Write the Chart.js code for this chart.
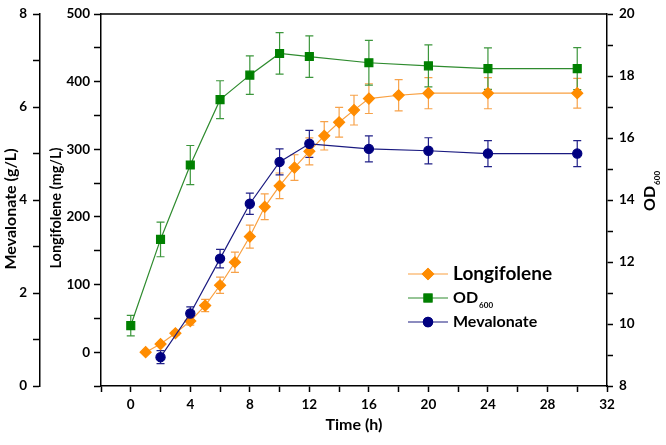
<!DOCTYPE html>
<html>
<head>
<meta charset="utf-8">
<script src="https://cdn.jsdelivr.net/npm/chart.js@4/dist/chart.umd.min.js"></script>
<style>
    body { margin: 0; background: #fff; }
    canvas { display: block; }
</style>
</head>
<body>
<canvas id="chart" width="666" height="445"></canvas>
<script>
'use strict';

// sampling times (h)
const timeLongi = [1, 2, 3, 4, 5, 6, 7, 8, 9, 10, 11, 12, 13, 14, 15, 16, 18, 20, 24, 30];
const timeOD = [0, 2, 4, 6, 8, 10, 12, 16, 20, 24, 30];
const timeMev = [2, 4, 6, 8, 10, 12, 16, 20, 24, 30];

// Longifolene (mg/L)
const longifolene = [0, 12, 28, 46, 69, 99, 133, 171, 215, 246, 273, 297, 320, 340, 358, 375, 380, 383, 383, 383];
const longiErr = [0, 2, 3, 6, 9, 12, 15, 17, 19, 19, 19, 20, 21, 22, 22, 22, 23, 23, 23, 22];

// OD600
const od600 = [9.95, 12.73, 15.13, 17.24, 18.03, 18.73, 18.63, 18.43, 18.33, 18.24, 18.24];
const odErr = [0.33, 0.56, 0.63, 0.61, 0.62, 0.67, 0.67, 0.72, 0.68, 0.67, 0.68];

// Mevalonate (g/L)
const mevalonate = [0.62, 1.56, 2.74, 3.92, 4.82, 5.21, 5.10, 5.06, 5.00, 5.00];
const mevErr = [0.14, 0.14, 0.2, 0.23, 0.28, 0.29, 0.28, 0.28, 0.28, 0.28];

const FONT = 'Lato, "Open Sans", sans-serif';
const tickFont = { family: FONT, size: 13.5, weight: 'bold' };

const toPoints = (xs, ys) => xs.map((x, i) => ({ x: x, y: ys[i] }));

// error bars are drawn under the markers
const errorBars = {
    id: 'errorBars',
    beforeDatasetsDraw(chart) {
        const ctx = chart.ctx;
        chart.data.datasets.forEach((ds, di) => {
            const meta = chart.getDatasetMeta(di);
            const yScale = chart.scales[ds.yAxisID];
            ctx.save();
            ctx.strokeStyle = ds.errColor;
            ctx.lineWidth = 1.2;
            meta.data.forEach((pt, i) => {
                const e = ds.errors[i];
                if (!e) return;
                const v = ds.data[i].y;
                const top = yScale.getPixelForValue(v + e);
                const bot = yScale.getPixelForValue(v - e);
                ctx.beginPath();
                ctx.moveTo(pt.x, top);
                ctx.lineTo(pt.x, bot);
                ctx.moveTo(pt.x - 4, top);
                ctx.lineTo(pt.x + 4, top);
                ctx.moveTo(pt.x - 4, bot);
                ctx.lineTo(pt.x + 4, bot);
                ctx.stroke();
            });
            ctx.restore();
        });
    }
};

// frame top, y axis titles and the legend
const decorations = {
    id: 'decorations',
    afterDraw(chart) {
        const ctx = chart.ctx;
        const area = chart.chartArea;
        ctx.save();

        ctx.strokeStyle = '#000';
        ctx.lineWidth = 1.5;
        ctx.beginPath();
        ctx.moveTo(area.left, area.top);
        ctx.lineTo(area.right, area.top);
        ctx.stroke();

        ctx.fillStyle = '#000';
        ctx.textAlign = 'center';
        ctx.textBaseline = 'middle';

        ctx.save();
        ctx.translate(11, 209);
        ctx.rotate(-Math.PI / 2);
        ctx.font = 'bold 16px ' + FONT;
        ctx.fillText('Mevalonate (g/L)', 0, 0);
        ctx.restore();

        ctx.save();
        ctx.translate(56, 208);
        ctx.rotate(-Math.PI / 2);
        ctx.font = 'bold 14.5px ' + FONT;
        ctx.fillText('Longifolene (mg/L)', 0, 0);
        ctx.restore();

        // OD600 with subscript
        ctx.save();
        ctx.translate(650, 201);
        ctx.rotate(-Math.PI / 2);
        ctx.textAlign = 'left';
        ctx.font = 'bold 16px ' + FONT;
        ctx.fillText('OD', -10, 0);
        const odW = ctx.measureText('OD').width;
        ctx.font = 'bold 8px ' + FONT;
        ctx.fillText('600', -10 + odW + 1, 7);
        ctx.restore();

        // legend
        const rows = [
            { ds: 0, y: 274, label: 'Longifolene', size: 19 },
            { ds: 1, y: 298, label: 'OD', sub: '600', size: 16 },
            { ds: 2, y: 322, label: 'Mevalonate', size: 16 }
        ];
        rows.forEach(r => {
            const ds = chart.data.datasets[r.ds];
            ctx.strokeStyle = ds.borderColor;
            ctx.lineWidth = 1.2;
            ctx.beginPath();
            ctx.moveTo(408, r.y);
            ctx.lineTo(448, r.y);
            ctx.stroke();
            Chart.helpers.drawPoint(ctx, {
                pointStyle: ds.pointStyle,
                radius: ds.pointRadius,
                rotation: 0,
                borderWidth: 1
            }, 428, r.y);
            ctx.fillStyle = ds.pointBackgroundColor;
            ctx.strokeStyle = ds.pointBorderColor;
            ctx.fill();
            ctx.stroke();

            ctx.fillStyle = '#000';
            ctx.textAlign = 'left';
            ctx.font = 'bold ' + r.size + 'px ' + FONT;
            ctx.fillText(r.label, 453, r.y);
            if (r.sub) {
                const w = ctx.measureText(r.label).width;
                ctx.font = 'bold 8px ' + FONT;
                ctx.fillText(r.sub, 454 + w, r.y + 7);
            }
        });

        ctx.restore();
    }
};

const yAxis = (opts) => Object.assign({
    type: 'linear',
    grid: { drawOnChartArea: false, tickLength: 7, tickColor: '#000', tickWidth: 1.5 },
    border: { color: '#000', width: 1.5 }
}, opts);

new Chart(document.getElementById('chart'), {
    type: 'line',
    data: {
        datasets: [
            {
                label: 'Longifolene',
                data: toPoints(timeLongi, longifolene),
                errors: longiErr,
                errColor: '#F7A24A',
                yAxisID: 'yLongi',
                borderColor: '#F9A040',
                borderWidth: 1.2,
                pointStyle: 'rectRot',
                pointRadius: 5.5,
                pointBackgroundColor: '#FF8C00',
                pointBorderColor: '#FF8C00',
                order: 3
            },
            {
                label: 'OD600',
                data: toPoints(timeOD, od600),
                errors: odErr,
                errColor: '#3C963C',
                yAxisID: 'yOD',
                borderColor: '#2E8B2E',
                borderWidth: 1.2,
                pointStyle: 'rect',
                pointRadius: 5.6,
                pointBackgroundColor: '#008000',
                pointBorderColor: '#008000',
                order: 2
            },
            {
                label: 'Mevalonate',
                data: toPoints(timeMev, mevalonate),
                errors: mevErr,
                errColor: '#202088',
                yAxisID: 'yMev',
                borderColor: '#1A1A80',
                borderWidth: 1.2,
                pointStyle: 'circle',
                pointRadius: 4.6,
                pointBackgroundColor: '#000080',
                pointBorderColor: '#000080',
                order: 1
            }
        ]
    },
    options: {
        responsive: false,
        animation: false,
        events: [],
        layout: { padding: { top: 10, left: 0, right: 0, bottom: 0 }, autoPadding: false },
        plugins: { legend: { display: false }, tooltip: { enabled: false } },
        scales: {
            x: {
                type: 'linear',
                position: 'bottom',
                min: -2,
                max: 32,
                afterFit: s => { s.height = 59; },
                ticks: {
                    stepSize: 2,
                    autoSkip: false,
                    maxRotation: 0,
                    padding: 5,
                    color: '#000',
                    font: tickFont,
                    callback: v => (v >= 0 && v % 4 === 0) ? v : ''
                },
                grid: { drawOnChartArea: false, tickLength: 6, tickColor: '#000', tickWidth: 1.5 },
                border: { color: '#000', width: 1.5 },
                title: {
                    display: true,
                    text: 'Time (h)',
                    color: '#000',
                    font: { family: FONT, size: 16, weight: 'bold' },
                    padding: { top: 0, bottom: 11 }
                }
            },
            yLongi: yAxis({
                position: 'left',
                weight: 0,
                min: -50,
                max: 500,
                afterFit: s => { s.width = 61; },
                ticks: {
                    stepSize: 50,
                    autoSkip: false,
                    padding: 4,
                    color: '#000',
                    font: tickFont,
                    callback: v => (v >= 0 && v % 100 === 0) ? v : ''
                }
            }),
            yMev: yAxis({
                position: 'left',
                weight: 1,
                min: 0,
                max: 8,
                afterFit: s => { s.width = 40; },
                ticks: {
                    stepSize: 1,
                    autoSkip: false,
                    padding: 6,
                    color: '#000',
                    font: tickFont,
                    callback: v => v % 2 === 0 ? v : ''
                }
            }),
            yOD: yAxis({
                position: 'right',
                min: 8,
                max: 20,
                afterFit: s => { s.width = 59; },
                grid: { drawOnChartArea: false, tickLength: 6, tickColor: '#000', tickWidth: 1.5 },
                ticks: {
                    stepSize: 1,
                    autoSkip: false,
                    padding: 6,
                    color: '#000',
                    font: tickFont,
                    callback: v => v % 2 === 0 ? v : ''
                }
            })
        }
    },
    plugins: [errorBars, decorations]
});
</script>
</body>
</html>
